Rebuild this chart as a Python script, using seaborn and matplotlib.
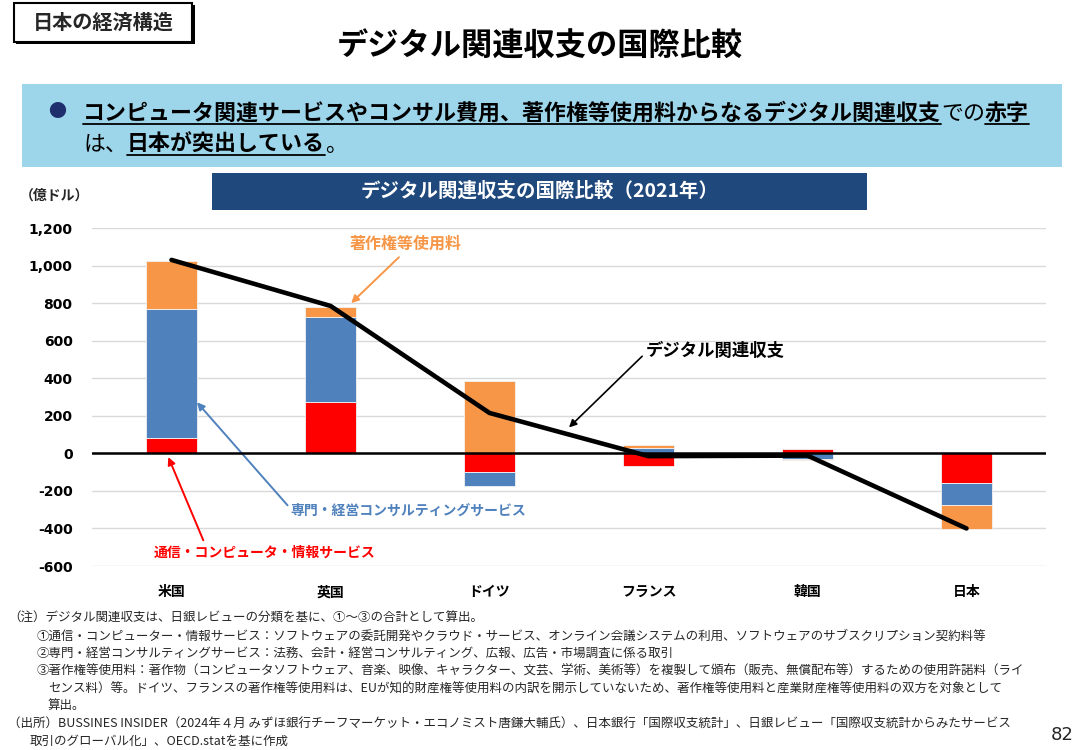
import numpy as np
import matplotlib
matplotlib.use("Agg")
import matplotlib.pyplot as plt
import matplotlib.patches as patches
from matplotlib.lines import Line2D
import seaborn as sns

# data (億ドル, 2021)
countries = ['米国', '英国', 'ドイツ', 'フランス', '韓国', '日本']
telecom = [80, 275, -100, -67, 21, -160]        # 通信・コンピュータ・情報サービス
consulting = [690, 450, -75, 26, -30, -115]     # 専門・経営コンサルティングサービス
royalties = [255, 55, 385, 20, -8, -127]        # 著作権等使用料
digital_total = [1030, 785, 215, -15, -12, -400]  # デジタル関連収支
y_ticks = [-600, -400, -200, 0, 200, 400, 600, 800, 1000, 1200]

notes = [
    (8, 618, '（注）デジタル関連収支は、日銀レビューの分類を基に、①～③の合計として算出。'),
    (37, 636, '①通信・コンピューター・情報サービス：ソフトウェアの委託開発やクラウド・サービス、オンライン会議システムの利用、ソフトウェアのサブスクリプション契約料等'),
    (37, 653, '②専門・経営コンサルティングサービス：法務、会計・経営コンサルティング、広報、広告・市場調査に係る取引'),
    (37, 671, '③著作権等使用料：著作物（コンピュータソフトウェア、音楽、映像、キャラクター、文芸、学術、美術等）を複製して頒布（販売、無償配布等）するための使用許諾料（ライ'),
    (48, 689, 'センス料）等。ドイツ、フランスの著作権等使用料は、EUが知的財産権等使用料の内訳を開示していないため、著作権等使用料と産業財産権等使用料の双方を対象として'),
    (48, 705, '算出。'),
    (8, 723, '（出所）BUSSINES INSIDER（2024年４月 みずほ銀行チーフマーケット・エコノミスト唐鎌大輔氏）、日本銀行「国際収支統計」、日銀レビュー「国際収支統計からみたサービス'),
    (30, 741, '取引のグローバル化」、OECD.statを基に作成'),
]

RED = '#ff0000'
BLUE = '#4f81bd'
ORANGE = '#f79646'

sns.set_theme(style='white')
plt.rcParams['font.family'] = ['Noto Sans CJK JP', 'DejaVu Sans']

W, H = 1084, 750
fig = plt.figure(figsize=(W / 100, H / 100), dpi=100)
renderer = fig.canvas.get_renderer()


def fx(x):
    return x / W


def fy(y):
    return 1 - y / H


# header box with shadow
fig.add_artist(patches.Rectangle((fx(16), fy(44)), 179 / W, 39 / H, transform=fig.transFigure,
                                 facecolor='black', edgecolor='none'))
fig.add_artist(patches.Rectangle((fx(14), fy(42)), 178 / W, 39 / H, transform=fig.transFigure,
                                 facecolor='white', edgecolor='black', lw=1.5))
fig.text(fx(103), fy(22), '日本の経済構造', fontsize=14.5, weight='bold', ha='center', va='center')

# title
fig.text(fx(540), fy(47), 'デジタル関連収支の国際比較', fontsize=22.5, weight='bold', ha='center', va='center',
         color='black')

# light blue message box
fig.add_artist(patches.Rectangle((fx(22), fy(167)), 1040 / W, 83 / H, transform=fig.transFigure,
                                 facecolor='#9dd5ea', edgecolor='none'))
fig.text(fx(57), fy(112), '●', fontsize=13, color='#1f2f6e', ha='center', va='center')


def seq_text(x, y, parts, size):
    for s, bold, ul in parts:
        t = fig.text(fx(x), fy(y), s, fontsize=size, weight='bold' if bold else 'normal',
                     va='baseline', color='black')
        bb = t.get_window_extent(renderer)
        if ul:
            fig.add_artist(Line2D([fx(bb.x0), fx(bb.x1)], [fy(y + 4), fy(y + 4)],
                                  transform=fig.transFigure, color='black', lw=1.3))
        x += bb.width


seq_text(83, 120, [('コンピュータ関連サービスやコンサル費用、著作権等使用料からなるデジタル関連収支', True, True),
                   ('での', False, False), ('赤字', True, True)], 15.8)
seq_text(83, 151, [('は、', False, False), ('日本が突出している', True, True), ('。', False, False)], 15.8)

# chart title bar
fig.add_artist(patches.Rectangle((fx(212), fy(210)), 655 / W, 37 / H, transform=fig.transFigure,
                                 facecolor='#1f497d', edgecolor='none'))
fig.text(fx(540), fy(191), 'デジタル関連収支の国際比較（2021年）', fontsize=14, weight='bold',
         color='white', ha='center', va='center')
fig.text(fx(20), fy(196), '（億ドル）', fontsize=10, weight='bold', ha='left', va='center')

# chart
ax = fig.add_axes([fx(92), fy(566), (1046 - 92) / W, (566 - 228) / H])

pos_base = np.zeros(len(countries))
neg_base = np.zeros(len(countries))
for vals, col in [(telecom, RED), (consulting, BLUE), (royalties, ORANGE)]:
    v = np.array(vals, dtype=float)
    bottom = np.where(v >= 0, pos_base, neg_base)
    sns.barplot(x=countries, y=v, order=countries, bottom=bottom, color=col, saturation=1,
                width=0.315, errorbar=None, edgecolor='#f2f2f2', linewidth=0.6, ax=ax, zorder=3)
    pos_base = pos_base + np.where(v >= 0, v, 0)
    neg_base = neg_base + np.where(v < 0, v, 0)

ax.axhline(0, color='black', lw=1.8, zorder=4)
sns.lineplot(x=np.arange(len(countries)), y=digital_total, color='black', lw=3.3, ax=ax, zorder=5)

ax.set_xlim(-0.5, len(countries) - 0.5)
ax.set_ylim(min(y_ticks), max(y_ticks))
ax.set_yticks(y_ticks)
ax.set_yticklabels([f'{v:,}' for v in y_ticks], fontsize=10, weight='bold', family='DejaVu Sans')
ax.set_xticks(range(len(countries)))
ax.set_xticklabels(countries, fontsize=10, weight='bold')
ax.tick_params(axis='y', length=0, pad=14, colors='black')
ax.tick_params(axis='x', length=0, pad=14, colors='black')
ax.set_xlabel('')
ax.set_ylabel('')
ax.yaxis.grid(True, color='#d9d9d9', lw=1.0, zorder=0)
ax.xaxis.grid(False)
for sp in ax.spines.values():
    sp.set_visible(False)


def arrow(tip, start, col, lw=1.4):
    ax.annotate('', xy=tip, xytext=start, annotation_clip=False,
                arrowprops=dict(arrowstyle='-|>', color=col, lw=lw, mutation_scale=11,
                                shrinkA=0, shrinkB=0))


ax.text(1.47, 1118, '著作権等使用料', color=ORANGE, fontsize=11.5, weight='bold', ha='center', va='center')
arrow((1.13, 800), (1.43, 1044), ORANGE)
ax.text(2.98, 543, 'デジタル関連収支', color='black', fontsize=12.5, weight='bold', ha='left', va='center')
arrow((2.50, 138), (2.96, 517), 'black', lw=1.2)
ax.text(0.75, -304, '専門・経営コンサルティングサービス', color=BLUE, fontsize=10, weight='bold',
        ha='left', va='center')
arrow((0.16, 272), (0.73, -277), BLUE)
ax.text(-0.11, -527, '通信・コンピュータ・情報サービス', color=RED, fontsize=10, weight='bold',
        ha='left', va='center')
arrow((-0.02, -20), (0.20, -463), RED)

# notes
for x, y, s in notes:
    fig.text(fx(x), fy(y), s, fontsize=9, ha='left', va='center')
fig.text(fx(1062), fy(735), '82', fontsize=13, ha='center', va='center', family='DejaVu Sans')

fig.savefig('out.png', dpi=100)
